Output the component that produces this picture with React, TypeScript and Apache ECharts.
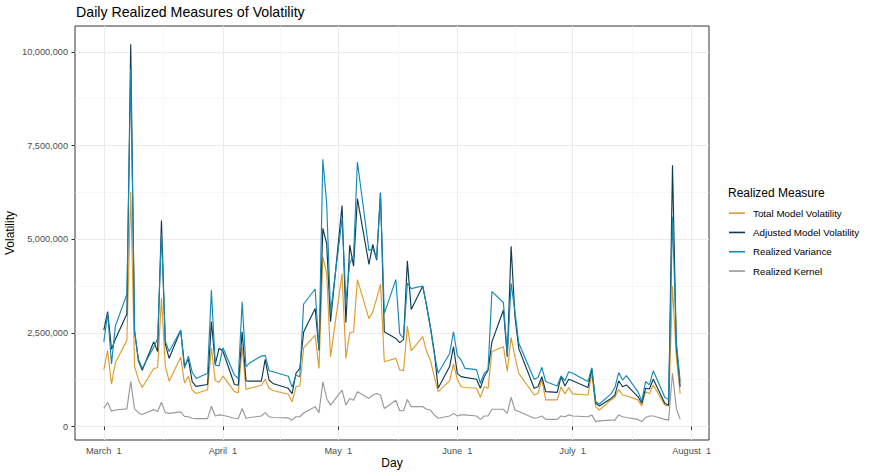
import React, { useEffect, useRef } from "react";
import * as echarts from "echarts";

// Trading days (2022) and daily realized measures, in millions
const DATES = [
  "2022-03-01", "2022-03-02", "2022-03-03", "2022-03-04", "2022-03-07", "2022-03-08", "2022-03-09", "2022-03-10", "2022-03-11",
  "2022-03-14", "2022-03-15", "2022-03-16", "2022-03-17", "2022-03-18", "2022-03-21", "2022-03-22", "2022-03-23", "2022-03-24",
  "2022-03-25", "2022-03-28", "2022-03-29", "2022-03-30", "2022-03-31", "2022-04-01", "2022-04-04", "2022-04-05", "2022-04-06",
  "2022-04-07", "2022-04-08", "2022-04-11", "2022-04-12", "2022-04-13", "2022-04-14", "2022-04-18", "2022-04-19", "2022-04-20",
  "2022-04-21", "2022-04-22", "2022-04-25", "2022-04-26", "2022-04-27", "2022-04-28", "2022-04-29", "2022-05-02", "2022-05-03",
  "2022-05-04", "2022-05-05", "2022-05-06", "2022-05-09", "2022-05-10", "2022-05-11", "2022-05-12", "2022-05-13", "2022-05-16",
  "2022-05-17", "2022-05-18", "2022-05-19", "2022-05-20", "2022-05-23", "2022-05-24", "2022-05-25", "2022-05-26", "2022-05-27",
  "2022-05-30", "2022-05-31", "2022-06-01", "2022-06-02", "2022-06-03", "2022-06-06", "2022-06-07", "2022-06-08", "2022-06-09",
  "2022-06-10", "2022-06-13", "2022-06-14", "2022-06-15", "2022-06-16", "2022-06-17", "2022-06-21", "2022-06-22", "2022-06-23",
  "2022-06-24", "2022-06-27", "2022-06-28", "2022-06-29", "2022-06-30", "2022-07-01", "2022-07-05", "2022-07-06", "2022-07-07",
  "2022-07-08", "2022-07-11", "2022-07-12", "2022-07-13", "2022-07-14", "2022-07-15", "2022-07-18", "2022-07-19", "2022-07-20",
  "2022-07-21", "2022-07-22", "2022-07-25", "2022-07-26", "2022-07-27", "2022-07-28", "2022-07-29",
];

const TOTAL_MODEL = [
  1.52, 2.03, 1.13, 1.70, 2.30, 6.26, 1.61, 1.25, 1.04,
  1.55, 1.57, 3.43, 1.62, 1.21, 1.85, 1.16, 1.34, 0.97,
  0.88, 0.98, 2.10, 1.23, 1.18, 1.35, 0.93, 0.90, 2.13,
  0.99, 1.02, 1.10, 1.26, 1.02, 0.96, 0.86, 0.66, 1.06,
  1.08, 2.10, 2.44, 1.55, 4.53, 4.08, 1.86, 4.08, 1.82,
  2.50, 2.53, 3.92, 2.88, 3.06, 3.42, 3.80, 1.73, 1.82,
  1.51, 1.49, 2.68, 2.02, 2.40, 2.00, 1.77, 1.33, 0.93,
  1.22, 1.67, 1.26, 1.06, 1.04, 1.02, 0.78, 1.06, 1.02,
  2.00, 2.13, 1.48, 2.38, 1.86, 1.42, 0.84, 0.88, 1.26,
  0.71, 0.71, 1.06, 0.87, 1.04, 0.87, 0.84, 1.42, 0.53,
  0.44, 0.71, 0.78, 0.99, 0.84, 0.82, 0.71, 0.55, 0.93,
  0.88, 1.11, 0.57, 0.55, 3.75, 1.86, 0.87,
];

const ADJUSTED_MODEL = [
  2.57, 3.07, 2.06, 2.33, 3.00, 10.2, 2.55, 1.75, 1.50,
  2.26, 2.00, 5.50, 2.20, 1.82, 2.57, 1.62, 1.80, 1.20,
  1.07, 1.12, 2.80, 1.66, 2.09, 2.01, 1.12, 1.10, 2.53,
  1.22, 1.21, 1.21, 1.79, 1.24, 1.15, 1.02, 0.88, 1.42,
  1.55, 2.52, 3.15, 2.03, 5.29, 4.88, 2.80, 5.90, 2.77,
  4.84, 4.28, 6.08, 4.33, 4.86, 4.44, 6.24, 2.53, 2.35,
  2.24, 2.32, 4.42, 3.12, 3.75, 3.24, 2.66, 2.00, 1.02,
  1.60, 2.13, 1.42, 1.33, 1.31, 1.26, 1.02, 1.33, 1.50,
  2.26, 3.11, 1.86, 4.81, 2.93, 2.08, 1.02, 1.06, 1.33,
  0.93, 0.91, 1.33, 1.08, 1.26, 1.22, 1.04, 1.55, 0.62,
  0.55, 0.75, 0.84, 1.22, 1.06, 1.11, 0.80, 0.62, 1.02,
  1.00, 1.26, 0.62, 0.57, 6.97, 2.13, 1.06,
];

const REALIZED_VARIANCE = [
  2.26, 3.02, 1.67, 2.68, 3.53, 9.55, 2.55, 1.80, 1.55,
  2.12, 2.35, 5.15, 2.28, 2.00, 2.57, 1.55, 1.88, 1.45,
  1.28, 1.42, 3.64, 1.64, 1.62, 2.10, 1.37, 1.28, 3.33,
  1.60, 1.70, 1.88, 1.90, 1.49, 1.46, 1.34, 1.05, 1.37,
  1.33, 3.27, 3.67, 2.03, 7.13, 5.95, 3.02, 5.55, 3.37,
  4.35, 4.57, 7.06, 4.70, 4.75, 4.48, 6.21, 3.02, 3.92,
  2.48, 2.35, 3.83, 3.68, 3.75, 3.21, 2.62, 1.95, 1.42,
  1.95, 2.53, 1.90, 1.77, 1.55, 1.52, 1.15, 1.42, 1.52,
  3.60, 3.31, 1.90, 3.82, 3.06, 2.22, 1.26, 1.31, 1.58,
  1.20, 1.08, 1.35, 1.22, 1.46, 1.42, 1.20, 1.57, 0.66,
  0.60, 0.87, 1.04, 1.44, 1.24, 1.36, 0.93, 0.68, 1.20,
  1.11, 1.49, 0.78, 0.72, 5.60, 2.26, 1.20,
];

const REALIZED_KERNEL = [
  0.49, 0.64, 0.41, 0.44, 0.47, 1.20, 0.47, 0.37, 0.32,
  0.45, 0.40, 0.65, 0.37, 0.35, 0.39, 0.27, 0.26, 0.22,
  0.21, 0.21, 0.54, 0.28, 0.31, 0.30, 0.22, 0.21, 0.48,
  0.22, 0.24, 0.28, 0.37, 0.26, 0.24, 0.23, 0.17, 0.26,
  0.26, 0.36, 0.53, 0.37, 1.19, 0.75, 0.57, 0.97, 0.57,
  0.75, 0.70, 0.93, 0.75, 0.84, 0.88, 0.84, 0.48, 0.70,
  0.42, 0.42, 0.72, 0.53, 0.53, 0.46, 0.44, 0.31, 0.22,
  0.28, 0.35, 0.28, 0.31, 0.31, 0.28, 0.19, 0.28, 0.28,
  0.46, 0.46, 0.35, 0.78, 0.44, 0.40, 0.22, 0.24, 0.28,
  0.19, 0.19, 0.28, 0.26, 0.31, 0.28, 0.26, 0.31, 0.13,
  0.15, 0.17, 0.17, 0.31, 0.26, 0.24, 0.19, 0.13, 0.24,
  0.28, 0.28, 0.19, 0.17, 1.42, 0.48, 0.19,
];

const UNIT = 1000000;

const SERIES_NAMES = [
  "Total Model Volatility",
  "Adjusted Model Volatility",
  "Realized Variance",
  "Realized Kernel",
];
const SERIES_VALUES = [TOTAL_MODEL, ADJUSTED_MODEL, REALIZED_VARIANCE, REALIZED_KERNEL];
const COLORS = ["#DE9C2C", "#0E3B52", "#1589B5", "#999999"];

const X_TICKS = ["2022-03-01", "2022-04-01", "2022-05-01", "2022-06-01", "2022-07-01", "2022-08-01"];
const X_MINOR = ["2022-03-16 12", "2022-04-16 00", "2022-05-16 12", "2022-06-16 00", "2022-07-16 12"];
const X_RANGE = ["2022-02-21 12", "2022-08-05 12"];
const MONTH_NAMES = ["January", "February", "March", "April", "May", "June", "July", "August", "September", "October", "November", "December"];

const Y_TICKS = [0, 2500000, 5000000, 7500000, 10000000];
const Y_MINOR = [1250000, 3750000, 6250000, 8750000];
const Y_RANGE = [-360000, 10690000];

const FONT = "'Liberation Sans', Arial, Helvetica, sans-serif";

function ts(s: string): number {
  const [datePart, hourPart] = s.split(" ");
  const [y, m, d] = datePart.split("-").map(Number);
  return Date.UTC(y, m - 1, d, hourPart ? Number(hourPart) : 0);
}

function fmtNumber(v: number): string {
  return String(Math.round(v)).replace(/\B(?=(\d{3})+(?!\d))/g, ",");
}

function fmtDate(v: any): string {
  const t = typeof v === "number" ? v : Number(v);
  const d = new Date(t);
  return MONTH_NAMES[d.getUTCMonth()] + "  " + d.getUTCDate();
}

export default function App() {
  const ref = useRef<HTMLDivElement | null>(null);

  useEffect(() => {
    if (!ref.current) return;
    const chart = echarts.init(ref.current, undefined, { renderer: "svg" });

    const xTickVals = X_TICKS.map(ts);
    const xMinorVals = X_MINOR.map(ts);
    const xMin = ts(X_RANGE[0]);
    const xMax = ts(X_RANGE[1]);
    const dateVals = DATES.map(ts);

    const series = SERIES_NAMES.map((name, si) => ({
      name,
      type: "line",
      xAxisIndex: 0,
      yAxisIndex: 0,
      showSymbol: false,
      symbol: "none",
      silent: true,
      color: COLORS[si],
      lineStyle: { color: COLORS[si], width: 1.15 },
      data: dateVals.map((t, i) => [t, SERIES_VALUES[si][i] * UNIT]),
    }));

    const option: any = {
      animation: false,
      backgroundColor: "#ffffff",
      textStyle: { fontFamily: FONT },
      title: [
        {
          text: "Daily Realized Measures of Volatility",
          left: 76,
          top: 5,
          padding: 0,
          textStyle: { fontSize: 14.2, fontWeight: "normal", color: "#000000", fontFamily: FONT },
        },
        {
          text: "Realized Measure",
          left: 728,
          top: 187,
          padding: 0,
          textStyle: { fontSize: 12, fontWeight: "normal", color: "#000000", fontFamily: FONT },
        },
      ],
      legend: {
        orient: "vertical",
        left: 729,
        top: 203.5,
        padding: 0,
        itemGap: 0,
        itemWidth: 16,
        itemHeight: 1.6,
        icon: "rect",
        selectedMode: false,
        data: SERIES_NAMES,
        textStyle: { fontSize: 9.8, color: "#000000", fontFamily: FONT, lineHeight: 19.3, padding: [0, 0, 0, 3] },
      },
      grid: {
        left: 75,
        top: 26,
        width: 634,
        height: 414,
        show: true,
        backgroundColor: "#ffffff",
        borderColor: "#333333",
        borderWidth: 1,
        containLabel: false,
        outerBoundsMode: "none",
      },
      xAxis: [
        {
          type: "value",
          min: xMin,
          max: xMax,
          axisLine: { show: false },
          axisTick: { show: true, length: 3.5, lineStyle: { color: "#333333", width: 1 }, customValues: xTickVals },
          axisLabel: {
            customValues: xTickVals,
            color: "#4d4d4d",
            fontSize: 9.2,
            fontFamily: FONT,
            margin: 6,
            formatter: fmtDate,
          },
          splitLine: { show: true, lineStyle: { color: "#ebebeb", width: 1 } },
          name: "Day",
          nameLocation: "middle",
          nameMoveOverlap: false,
          nameGap: 17,
          nameTextStyle: { fontSize: 12, lineHeight: 12, color: "#000000", fontFamily: FONT },
        },
        {
          type: "value",
          min: xMin,
          max: xMax,
          position: "bottom",
          axisLine: { show: false },
          axisTick: { show: false, customValues: xMinorVals },
          axisLabel: { show: false, customValues: xMinorVals },
          splitLine: { show: true, lineStyle: { color: "#f2f2f2", width: 0.6 } },
        },
      ],
      yAxis: [
        {
          type: "value",
          min: Y_RANGE[0],
          max: Y_RANGE[1],
          axisLine: { show: false },
          axisTick: { show: true, length: 3.5, lineStyle: { color: "#333333", width: 1 }, customValues: Y_TICKS },
          axisLabel: {
            customValues: Y_TICKS,
            color: "#4d4d4d",
            fontSize: 9.2,
            fontFamily: FONT,
            margin: 7,
            formatter: (v: any) => fmtNumber(typeof v === "number" ? v : Number(v)),
          },
          splitLine: { show: true, lineStyle: { color: "#ebebeb", width: 1 } },
          name: "Volatility",
          nameLocation: "middle",
          nameMoveOverlap: false,
          nameGap: 59,
          nameTextStyle: { fontSize: 12, lineHeight: 12, color: "#000000", fontFamily: FONT },
        },
        {
          type: "value",
          min: Y_RANGE[0],
          max: Y_RANGE[1],
          position: "left",
          axisLine: { show: false },
          axisTick: { show: false, customValues: Y_MINOR },
          axisLabel: { show: false, customValues: Y_MINOR },
          splitLine: { show: true, lineStyle: { color: "#f2f2f2", width: 0.6 } },
        },
      ],
      series,
    };

    chart.setOption(option);
    return () => chart.dispose();
  }, []);

  return (
    <div
      ref={ref}
      style={{ position: "absolute", left: 0, top: 0, width: 872, height: 476 }}
    />
  );
}
